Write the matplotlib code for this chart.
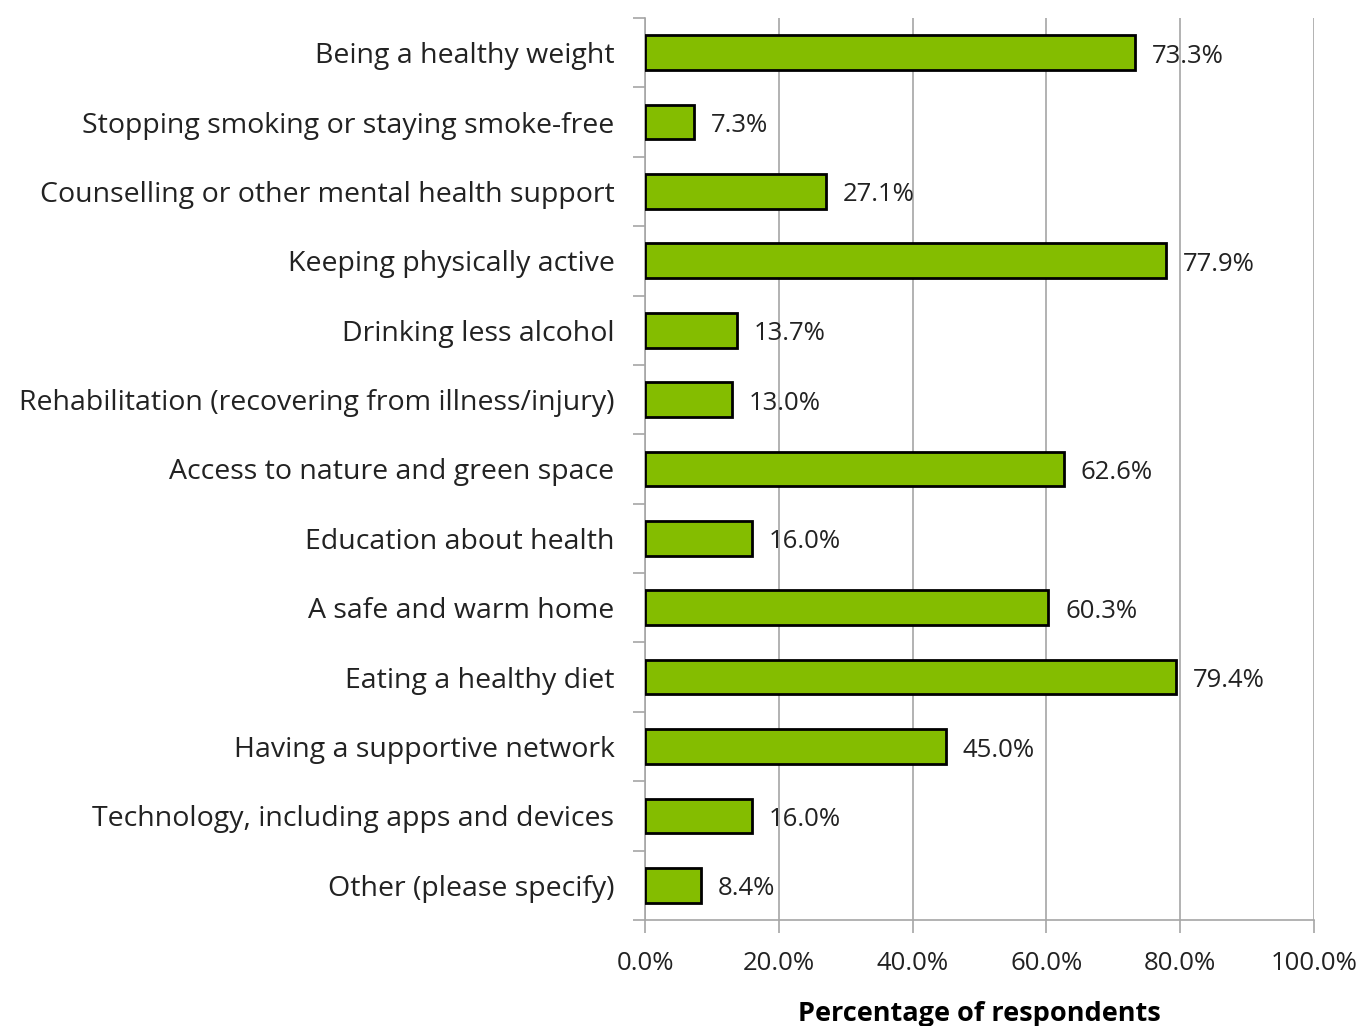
import matplotlib
matplotlib.use("Agg")
import matplotlib.pyplot as plt
from matplotlib.ticker import FixedLocator, FuncFormatter

categories = [
    "Being a healthy weight",
    "Stopping smoking or staying smoke-free",
    "Counselling or other mental health support",
    "Keeping physically active",
    "Drinking less alcohol",
    "Rehabilitation (recovering from illness/injury)",
    "Access to nature and green space",
    "Education about health",
    "A safe and warm home",
    "Eating a healthy diet",
    "Having a supportive network",
    "Technology, including apps and devices",
    "Other (please specify)",
]
values = [73.3, 7.3, 27.1, 77.9, 13.7, 13.0, 62.6, 16.0, 60.3, 79.4, 45.0, 16.0, 8.4]
x_ticks = [0, 20, 40, 60, 80, 100]
x_label = "Percentage of respondents"

plt.rcParams["font.family"] = ["Open Sans", "DejaVu Sans"]
text_color = "#222222"
grid_color = "#a6a6a6"

fig = plt.figure(figsize=(13.58, 10.26), dpi=100)
ax = fig.add_axes([0.475, 0.1033, 0.4925, 0.8792])

n = len(categories)
ypos = list(range(n))
ax.barh(ypos, values, height=0.5, color="#84bd00", edgecolor="black", linewidth=2, zorder=3)

for y, v in zip(ypos, values):
    ax.annotate(f"{v:.1f}%", (v, y), xytext=(12, -2.5), textcoords="offset points",
                va="center", ha="left", fontsize=18.5, color=text_color, zorder=4)

ax.set_xlim(0, 100)
ax.set_ylim(n - 0.5, -0.5)

ax.xaxis.set_major_locator(FixedLocator(x_ticks))
ax.xaxis.set_major_formatter(FuncFormatter(lambda v, p: f"{v:.1f}%"))
ax.grid(axis="x", color=grid_color, linewidth=1.2, zorder=0)

# category labels sit between boundary tick marks
ax.set_yticks(ypos)
ax.set_yticklabels(categories, fontsize=20.5, color=text_color)
ax.tick_params(axis="y", which="major", length=0, pad=22)
ax.set_yticks([i - 0.5 for i in range(n + 1)], minor=True)
ax.tick_params(axis="y", which="minor", length=9, width=1.2, color=grid_color)

ax.tick_params(axis="x", length=9, width=1.2, color=grid_color, labelsize=18.5,
               labelcolor=text_color, pad=13)

for side in ("top", "right"):
    ax.spines[side].set_visible(False)
for side in ("left", "bottom"):
    ax.spines[side].set_color(grid_color)
    ax.spines[side].set_linewidth(1.2)

ax.set_xlabel(x_label, fontsize=19.5, fontweight="bold", color="black", labelpad=18)

fig.savefig("out.png", dpi=100)
